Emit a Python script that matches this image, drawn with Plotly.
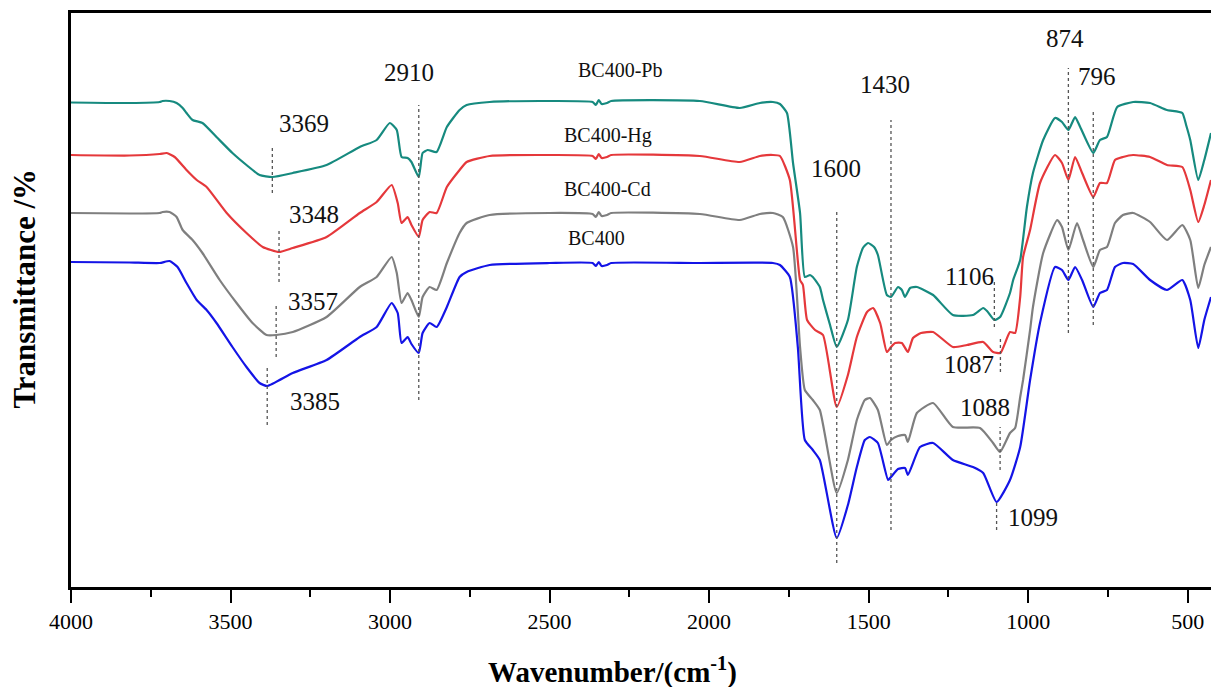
import plotly.graph_objects as go

# FTIR spectra of biochar BC400 before and after heavy-metal sorption.
# Wavenumber in cm^-1, transmittance in arbitrary units (curves offset vertically).

pb_wn = [4000, 3817, 3722, 3713, 3691, 3669, 3650, 3638, 3619, 3588, 3544, 3494, 3450, 3409,
         3369, 3305, 3199, 3095, 3042, 3001, 2979, 2964, 2945, 2933, 2910, 2898, 2882, 2854,
         2822, 2782, 2760, 2688, 2500, 2365, 2355, 2346, 2337, 2320, 2307, 2029, 1904, 1841,
         1800, 1778, 1756, 1737, 1715, 1700, 1684, 1675, 1653, 1643, 1621, 1600, 1565, 1537,
         1518, 1502, 1483, 1471, 1443, 1430, 1408, 1396, 1386, 1370, 1349, 1298, 1236, 1173,
         1141, 1129, 1106, 1088, 1057, 1047, 1025, 1004, 985, 953, 916, 894, 874, 853, 837,
         796, 775, 753, 721, 671, 618, 565, 517, 505, 492, 467, 448, 427]
pb_t = [484.5, 484, 485, 486, 486, 484, 479, 474, 467, 464, 450, 434, 422, 412,
        410, 414, 422, 440, 447, 464, 457, 430, 429, 425, 410, 434, 437, 435,
        460, 477, 482, 485, 486, 485, 482, 487, 483, 484, 486, 486, 479, 484,
        485, 483, 474, 424, 374, 310, 312, 310, 300, 287, 262, 240, 267, 320,
        339, 344, 340, 332, 292, 290, 300, 297, 290, 299, 300, 292, 272, 272,
        279, 276, 267, 270, 294, 307, 327, 380, 414, 447, 469, 465, 457, 470, 460,
        434, 447, 450, 480, 485, 484, 477, 474, 462, 447, 407, 427, 454]

hg_wn = [4000, 3817, 3722, 3700, 3675, 3638, 3606, 3575, 3512, 3450, 3399, 3348, 3305, 3199,
         3095, 3042, 2995, 2976, 2964, 2945, 2933, 2910, 2898, 2876, 2854, 2822, 2782, 2760,
         2688, 2500, 2365, 2355, 2346, 2337, 2320, 2307, 2029, 1904, 1841, 1800, 1778, 1747,
         1715, 1706, 1693, 1668, 1643, 1600, 1565, 1537, 1505, 1486, 1464, 1443, 1430, 1417,
         1396, 1377, 1361, 1336, 1298, 1236, 1192, 1141, 1110, 1087, 1057, 1041, 1025, 1016,
         994, 963, 916, 894, 874, 853, 831, 796, 775, 753, 728, 703, 671, 618, 565, 517, 492,
         467, 448, 427]
hg_t = [432, 431.5, 433, 434, 430, 417, 407, 400, 374, 354, 340, 335, 339, 350,
        374, 385, 402, 384, 364, 370, 362, 350, 367, 375, 374, 400, 417, 425,
        431, 432, 431, 428, 433, 429, 430, 432, 431, 425, 431, 432, 431, 407,
        307, 302, 267, 257, 252, 180, 212, 250, 275, 279, 264, 235, 240, 244,
        244, 235, 249, 254, 255, 240, 242, 245, 235, 234, 255, 254, 290, 330,
        357, 404, 432, 424, 407, 430, 414, 390, 404, 404, 427, 430, 432, 430, 422, 420, 397,
        365, 382, 407]

cd_wn = [4000, 3817, 3722, 3713, 3691, 3669, 3650, 3619, 3588, 3534, 3481, 3431, 3387, 3357,
         3305, 3199, 3095, 3042, 2995, 2979, 2964, 2945, 2933, 2910, 2898, 2876, 2854, 2822,
         2782, 2760, 2688, 2500, 2365, 2355, 2346, 2337, 2320, 2307, 2029, 1904, 1841, 1800,
         1769, 1737, 1715, 1700, 1675, 1653, 1600, 1565, 1537, 1512, 1496, 1471, 1443, 1430,
         1408, 1386, 1377, 1349, 1298, 1236, 1151, 1110, 1088, 1057, 1041, 1025, 1016, 994,
         985, 953, 909, 894, 874, 847, 828, 796, 775, 753, 728, 703, 671, 618, 565, 517, 492,
         467, 448, 427]
cd_t = [374, 373.5, 374, 375, 375, 370, 357, 347, 334, 307, 284, 264, 252, 252,
        255, 270, 300, 310, 330, 314, 284, 294, 287, 270, 290, 300, 297, 324,
        354, 364, 372, 374, 373, 370, 375, 371, 372, 374, 373, 367, 373, 374,
        370, 340, 240, 197, 187, 177, 94, 127, 167, 187, 189, 177, 142, 147,
        151, 152, 145, 174, 184, 160, 159, 144, 135, 154, 159, 190, 207, 257,
        280, 334, 367, 360, 337, 364, 347, 320, 337, 340, 364, 372, 374, 365, 347, 362, 347,
        299, 322, 340]

bc_wn = [4000, 3817, 3722, 3691, 3666, 3638, 3606, 3575, 3544, 3494, 3450, 3409, 3385, 3305,
         3199, 3095, 3042, 2995, 2976, 2964, 2945, 2933, 2910, 2898, 2876, 2854, 2822, 2782,
         2760, 2688, 2500, 2365, 2355, 2346, 2337, 2320, 2307, 2029, 1800, 1778, 1747, 1722,
         1700, 1675, 1653, 1600, 1565, 1537, 1512, 1496, 1471, 1439, 1430, 1408, 1386, 1377,
         1339, 1298, 1236, 1173, 1141, 1099, 1057, 1025, 994, 963, 916, 894, 874, 853, 831,
         796, 775, 753, 728, 703, 671, 618, 565, 517, 492, 467, 448, 427]
bc_t = [325, 324.5, 324, 326, 320, 304, 287, 277, 264, 240, 220, 204, 201, 214,
        227, 250, 260, 284, 274, 244, 250, 243, 234, 254, 264, 260, 280, 310,
        315, 322, 324, 324, 321, 325, 321, 322, 324, 324, 324, 322, 310, 240,
        147, 137, 127, 49, 82, 120, 147, 150, 144, 107, 110, 118, 119, 112,
        140, 144, 127, 120, 114, 85, 107, 140, 207, 264, 320, 317, 307, 320, 307,
        280, 294, 297, 320, 324, 323, 307, 297, 307, 287, 239, 267, 290]

series = [
    ("BC400-Pb", pb_wn, pb_t, "#168a7f"),
    ("BC400-Hg", hg_wn, hg_t, "#e5383b"),
    ("BC400-Cd", cd_wn, cd_t, "#7f7f7f"),
    ("BC400", bc_wn, bc_t, "#1414e6"),
]

# series name labels: (text, wavenumber, transmittance)
name_labels = [("BC400-Pb", 2280, 517), ("BC400-Hg", 2317, 452),
               ("BC400-Cd", 2320, 398), ("BC400", 2352, 349)]

# band assignments: (band, label wavenumber, label height, line top, line bottom)
bands = [
    (3369, 3271, 464, 442, 394),
    (3348, 3238, 373, 359, 305),
    (3357, 3241, 286, 284, 230),
    (3385, 3235, 186, 222, 162),
    (2910, 2941, 515, 482, 187),
    (1600, 1603, 419, 377, 24),
    (1430, 1449, 503, 467, 57),
    (1106, 1184, 311, 307, 260),
    (1087, 1184, 223, 250, 215),
    (1088, 1135, 180, 160, 117),
    (1099, 986, 70, 84, 57),
    (874, 886, 549, 519, 254),
    (796, 784, 511, 477, 262),
]

x_ticks = [4000, 3500, 3000, 2500, 2000, 1500, 1000, 500]
x_minor = [3750, 3250, 2750, 2250, 1750, 1250, 750]

SERIF = "Liberation Serif, Times New Roman, serif"

fig = go.Figure()
for name, wn, t, color in series:
    fig.add_trace(go.Scatter(x=wn, y=t, mode="lines", name=name,
                             line=dict(color=color, width=2.2, shape="spline", smoothing=0.5)))

shapes = []
annotations = []
for band, lx, ly, top, bottom in bands:
    shapes.append(dict(type="line", xref="x", yref="y", x0=band, x1=band,
                       y0=bottom, y1=top,
                       line=dict(color="#555555", width=1.3, dash="dot")))
    annotations.append(dict(x=lx, y=ly, xref="x", yref="y", text=str(band),
                            showarrow=False, font=dict(family=SERIF, size=25, color="#111111")))

for text, lx, ly in name_labels:
    annotations.append(dict(x=lx, y=ly, xref="x", yref="y", text=text, showarrow=False,
                            font=dict(family=SERIF, size=20, color="#111111")))

# axis titles
annotations.append(dict(x=0.475, y=-0.145, xref="paper", yref="paper",
                        text="<b>Wavenumber/(cm<sup>-1</sup>)</b>", showarrow=False,
                        xanchor="center", yanchor="middle",
                        font=dict(family=SERIF, size=29, color="#000000")))
annotations.append(dict(x=-0.0412, y=0.52, xref="paper", yref="paper",
                        text="<b>Transmittance /%</b>", showarrow=False, textangle=-90,
                        xanchor="center", yanchor="middle",
                        font=dict(family=SERIF, size=31, color="#000000")))

fig.update_layout(
    width=1211, height=687,
    margin=dict(l=71, r=0, t=13, b=100),
    paper_bgcolor="white", plot_bgcolor="white",
    showlegend=False,
    shapes=shapes,
    annotations=annotations,
    xaxis=dict(range=[4000, 427], tickvals=x_ticks, ticktext=[str(v) for v in x_ticks],
               ticks="outside", ticklen=13, tickwidth=2, tickcolor="black",
               minor=dict(tickvals=x_minor, ticks="outside", ticklen=7, tickwidth=2,
                          tickcolor="black"),
               showline=True, linewidth=2.5, linecolor="black", mirror=True,
               showgrid=False, zeroline=False,
               tickfont=dict(family=SERIF, size=22, color="black")),
    yaxis=dict(range=[0, 574], showticklabels=False, ticks="",
               showline=True, linewidth=2.5, linecolor="black", mirror=False,
               showgrid=False, zeroline=False),
)

fig.write_html("out.html")
